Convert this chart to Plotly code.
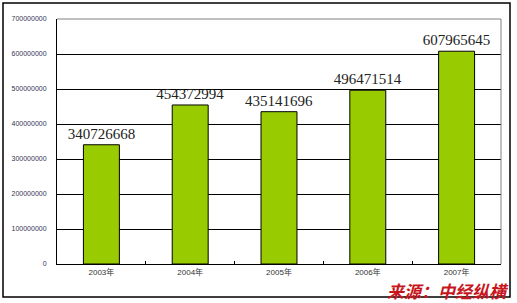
import plotly.graph_objects as go

categories = ["2003年", "2004年", "2005年", "2006年", "2007年"]
values = [340726668, 454372994, 435141696, 496471514, 607965645]
y_ticks = [0, 100000000, 200000000, 300000000, 400000000, 500000000, 600000000, 700000000]

W, H = 517, 303
L, R, T, B = 57, 501, 19, 264
pw, ph = R - L, B - T

def px_x(x):
    return (x - L) / pw

def px_y(y):
    return (B - y) / ph

fig = go.Figure()
fig.add_trace(go.Bar(
    x=categories, y=values,
    marker=dict(color="#99cc00", line=dict(color="black", width=1)),
    width=0.405,
    text=[str(v) for v in values],
    textposition="outside",
    constraintext="none",
    textfont=dict(family="Liberation Serif, serif", size=15, color="#222222"),
    cliponaxis=False,
))

fig.update_layout(
    width=W, height=H,
    margin=dict(l=L, r=W - R, t=T, b=H - B),
    paper_bgcolor="white", plot_bgcolor="white",
    showlegend=False,
    bargap=0.6,
    xaxis=dict(
        showline=True, linecolor="black", linewidth=1,
        ticks="inside", ticklen=3, tickcolor="black", tickson="boundaries",
        tickfont=dict(family="Arial, Noto Sans CJK SC, sans-serif", size=8, color="#333333"),
        showgrid=False,
    ),
    yaxis=dict(
        range=[0, 700000000], tickvals=y_ticks,
        ticktext=[str(v) for v in y_ticks],
        showline=True, linecolor="black", linewidth=1,
        showgrid=True, gridcolor="black", gridwidth=1,
        tickfont=dict(family="Arial, sans-serif", size=7, color="#333355"),
        ticks="", ticklabelstandoff=8,
        zeroline=False,
    ),
)

# plot-area border (grey top/right)
fig.add_shape(type="line", xref="paper", yref="paper", x0=0, x1=1, y0=1, y1=1,
              line=dict(color="#808080", width=1))
fig.add_shape(type="line", xref="paper", yref="paper", x0=1, x1=1, y0=0, y1=1,
              line=dict(color="#808080", width=1))
# outer chart frame
fig.add_shape(type="rect", xref="paper", yref="paper",
              x0=px_x(3), x1=px_x(510), y0=px_y(297), y1=px_y(3),
              line=dict(color="black", width=1.5), fillcolor="rgba(0,0,0,0)")

fig.add_annotation(
    text="<b><i>来源：中经纵横</i></b>", xref="paper", yref="paper",
    x=px_x(511), y=px_y(290), xanchor="right", yanchor="middle", showarrow=False,
    font=dict(family="Noto Sans CJK SC", size=17, color="#c8161d"),
)

fig.write_html("out.html")
